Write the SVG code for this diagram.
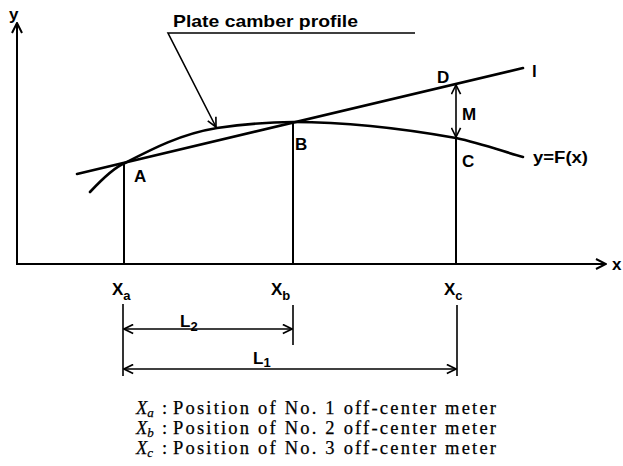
<svg xmlns="http://www.w3.org/2000/svg" width="623" height="466" viewBox="0 0 623 466">
<style>
.ax{stroke:#000;stroke-width:2;fill:none}
.crv{stroke:#000;stroke-width:2.6;fill:none;stroke-linecap:round}
.thin{stroke:#000;stroke-width:1.6;fill:none}
.lbl{font-family:"Liberation Sans","DejaVu Sans",sans-serif;font-weight:bold;font-size:17px;fill:#000}
.sub{font-size:13px}
.cap{font-family:"Liberation Serif","DejaVu Serif",serif;font-size:18.5px;fill:#000;stroke:#000;stroke-width:0.25}
</style>
<defs>
<marker id="arr" viewBox="0 0 12 12" refX="11" refY="6" markerWidth="12" markerHeight="12" markerUnits="userSpaceOnUse" orient="auto-start-reverse">
<path d="M1,1 L11,6 L1,11" fill="none" stroke="#000" stroke-width="2"/>
</marker>
<marker id="arrS" viewBox="0 0 12 12" refX="11" refY="6" markerWidth="11" markerHeight="11" markerUnits="userSpaceOnUse" orient="auto-start-reverse">
<path d="M1,1 L11,6 L1,11" fill="none" stroke="#000" stroke-width="1.8"/>
</marker>
</defs>
<rect width="623" height="466" fill="#fff"/>
<g id="connectors">
<line class="ax" x1="17" y1="264" x2="17" y2="23" marker-end="url(#arr)"/>
<line class="ax" x1="16" y1="264" x2="606" y2="264" marker-end="url(#arr)"/>
<line class="crv" x1="77" y1="174" x2="523" y2="68"/>
<path class="crv" d="M90,192 C105,176 115,167 125,163 C150,150 180,134 217,128 C245,124 270,122 293,122 C340,122 400,128 456,138 C480,143 505,152 523,157"/>
<line class="ax" x1="124" y1="163" x2="124" y2="264"/>
<line class="ax" x1="293" y1="122" x2="293" y2="264"/>
<line class="ax" x1="456" y1="138" x2="456" y2="264"/>
<line class="thin" x1="456" y1="85" x2="456" y2="137" marker-start="url(#arrS)" marker-end="url(#arrS)"/>
<polyline class="thin" points="415,33 168,33 216,127" marker-end="url(#arrS)"/>
<line class="thin" x1="123" y1="304" x2="123" y2="376"/>
<line class="thin" x1="293" y1="305" x2="293" y2="345"/>
<line class="thin" x1="457" y1="305" x2="457" y2="376"/>
<line class="thin" x1="124" y1="329" x2="292" y2="329" marker-start="url(#arrS)" marker-end="url(#arrS)"/>
<line class="thin" x1="124" y1="369" x2="456" y2="369" marker-start="url(#arrS)" marker-end="url(#arrS)"/>
</g>
<g id="axis-labels">
<text class="lbl" x="9" y="20" font-size="15">y</text>
<text class="lbl" x="612" y="270" font-size="15">x</text>
</g>
<g id="title"><text class="lbl" x="173" y="27" textLength="185" lengthAdjust="spacingAndGlyphs">Plate camber profile</text></g>
<g id="node-A"><text class="lbl" x="134" y="182">A</text></g>
<g id="node-B"><text class="lbl" x="295" y="150">B</text></g>
<g id="node-C"><text class="lbl" x="462" y="167">C</text></g>
<g id="node-D"><text class="lbl" x="437" y="83">D</text></g>
<g id="label-M"><text class="lbl" x="462" y="120">M</text></g>
<g id="label-l"><text class="lbl" x="532" y="77">l</text></g>
<g id="label-F"><text class="lbl" x="533" y="163" font-size="15" textLength="55" lengthAdjust="spacingAndGlyphs">y=F(x)</text></g>
<g id="label-Xa"><text class="lbl" x="112" y="295">X<tspan class="sub" dy="5">a</tspan></text></g>
<g id="label-Xb"><text class="lbl" x="271" y="295">X<tspan class="sub" dy="5">b</tspan></text></g>
<g id="label-Xc"><text class="lbl" x="444" y="295">X<tspan class="sub" dy="5">c</tspan></text></g>
<g id="label-L2"><text class="lbl" x="180" y="327">L<tspan class="sub" dy="4">2</tspan></text></g>
<g id="label-L1"><text class="lbl" x="253" y="364">L<tspan class="sub" dy="3">1</tspan></text></g>
<g id="caption">
<text class="cap" x="136" y="414"><tspan font-style="italic">X</tspan><tspan font-style="italic" font-size="13" dy="3">a</tspan></text>
<text class="cap" x="162" y="414">:</text>
<text class="cap" x="173" y="414" textLength="323" lengthAdjust="spacing">Position of No. 1 off-center meter</text>
<text class="cap" x="136" y="434"><tspan font-style="italic">X</tspan><tspan font-style="italic" font-size="13" dy="3">b</tspan></text>
<text class="cap" x="162" y="434">:</text>
<text class="cap" x="173" y="434" textLength="323" lengthAdjust="spacing">Position of No. 2 off-center meter</text>
<text class="cap" x="136" y="454"><tspan font-style="italic">X</tspan><tspan font-style="italic" font-size="13" dy="3">c</tspan></text>
<text class="cap" x="162" y="454">:</text>
<text class="cap" x="173" y="454" textLength="323" lengthAdjust="spacing">Position of No. 3 off-center meter</text>
</g>
</svg>
